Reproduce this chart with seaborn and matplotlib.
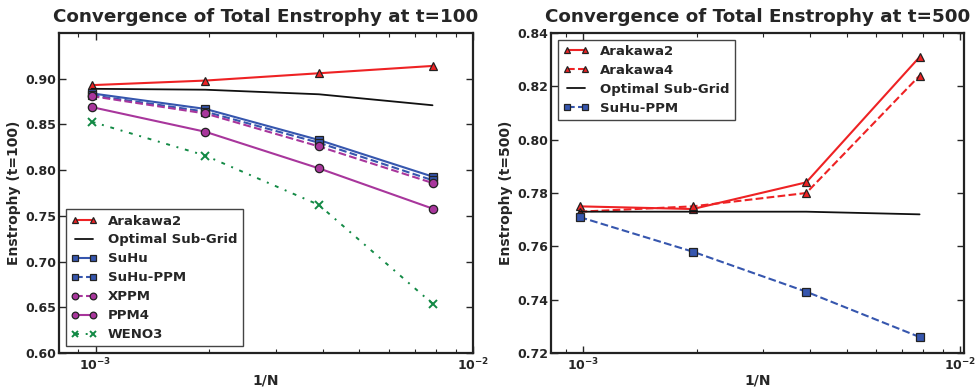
import numpy as np
import pandas as pd
import matplotlib
matplotlib.use("Agg")
import matplotlib.pyplot as plt
import seaborn as sns

# grid spacing 1/N
inv_n = [1 / 1024, 1 / 512, 1 / 256, 1 / 128]

# t=100
ara2_100 = [0.893, 0.898, 0.906, 0.914]
optimal_100 = [0.889, 0.888, 0.883, 0.871]
suhu_100 = [0.884, 0.867, 0.833, 0.793]
suhu_ppm_100 = [0.882, 0.864, 0.830, 0.789]
xppm_100 = [0.881, 0.862, 0.826, 0.786]
ppm4_100 = [0.869, 0.842, 0.802, 0.758]
weno3_100 = [0.853, 0.816, 0.762, 0.654]

# t=500
ara2_500 = [0.775, 0.774, 0.784, 0.831]
ara4_500 = [0.773, 0.775, 0.780, 0.824]
optimal_500 = [0.773, 0.773, 0.773, 0.772]
suhu_ppm_500 = [0.771, 0.758, 0.743, 0.726]

yticks_100 = [0.60, 0.65, 0.70, 0.75, 0.80, 0.85, 0.90]
yticks_500 = [0.72, 0.74, 0.76, 0.78, 0.80, 0.82, 0.84]

red = "#ee2224"
blue = "#3656ae"
purple = "#a8369c"
green = "#138a45"

sns.set_style("ticks")
plt.rcParams["font.family"] = ["DejaVu Sans"]
plt.rcParams.update({
    "font.weight": "bold",
    "axes.labelweight": "bold",
    "axes.titleweight": "bold",
    "mathtext.default": "bf",
    "axes.linewidth": 1.6,
    "axes.edgecolor": "#222222",
    "xtick.direction": "in",
    "ytick.direction": "in",
    "xtick.top": True,
    "ytick.right": True,
    "xtick.major.size": 5,
    "ytick.major.size": 5,
    "xtick.minor.size": 3,
    "xtick.major.width": 1.0,
    "ytick.major.width": 1.0,
    "xtick.minor.width": 0.8,
    "xtick.labelsize": 9,
    "ytick.labelsize": 9,
    "axes.labelsize": 10,
    "legend.fontsize": 9.5,
})

fig = plt.figure(figsize=(9.75, 3.89), dpi=100)
ax1 = fig.add_axes([0.0605, 0.0925, 0.4246, 0.8226])
ax2 = fig.add_axes([0.5651, 0.0925, 0.4236, 0.8226])


def draw(ax, y, label, color, marker, ls, ms=6):
    sns.lineplot(x=inv_n, y=y, ax=ax, color=color, marker=marker, linestyle=ls,
                 markersize=ms, markeredgecolor="#222222", markeredgewidth=0.9,
                 linewidth=1.5, label=label)


draw(ax1, ara2_100, "Arakawa2", red, "^", "-")
sns.lineplot(x=inv_n, y=optimal_100, ax=ax1, color="#111111", linewidth=1.3, label="Optimal Sub-Grid")
draw(ax1, suhu_100, "SuHu", blue, "s", "-")
draw(ax1, suhu_ppm_100, "SuHu-PPM", blue, "s", "--")
draw(ax1, xppm_100, "XPPM", purple, "o", "--")
draw(ax1, ppm4_100, "PPM4", purple, "o", "-")
sns.lineplot(x=inv_n, y=weno3_100, ax=ax1, color=green, marker="x", linestyle=(0, (2, 3.5, 1, 3.5)),
             markersize=6, markeredgecolor=green, markeredgewidth=1.4, linewidth=1.4, label="WENO3")

draw(ax2, ara2_500, "Arakawa2", red, "^", "-")
draw(ax2, ara4_500, "Arakawa4", red, "^", "--")
sns.lineplot(x=inv_n, y=optimal_500, ax=ax2, color="#111111", linewidth=1.3, label="Optimal Sub-Grid")
draw(ax2, suhu_ppm_500, "SuHu-PPM", blue, "s", "--")

for ax in (ax1, ax2):
    ax.set_xscale("log")
    ax.set_xlabel("1/N", labelpad=0)
    ax.tick_params(which="both", top=True, right=True, direction="in")
    ax.tick_params(axis="y", pad=2)
    ax.tick_params(axis="x", pad=3)
    for s in ax.spines.values():
        s.set_visible(True)

ax1.set_xlim(8e-4, 1e-2)
ax1.set_ylim(0.60, 0.95)
ax1.set_yticks(yticks_100)
ax1.set_yticklabels([f"{v:.2f}" for v in yticks_100])
ax1.set_ylabel("Enstrophy (t=100)", labelpad=3)
ax1.set_title("Convergence of Total Enstrophy at t=100", fontsize=13.2, pad=8)
ax1.legend(loc="lower left", numpoints=2, fancybox=False, edgecolor="#444444", markerscale=0.8,
           framealpha=1, borderaxespad=0.5, handlelength=2.0, labelspacing=0.45)

ax2.set_xlim(8.2e-4, 1.025e-2)
ax2.set_ylim(0.72, 0.84)
ax2.set_yticks(yticks_500)
ax2.set_yticklabels([f"{v:.2f}" for v in yticks_500])
ax2.set_ylabel("Enstrophy (t=500)", labelpad=3)
ax2.set_title("Convergence of Total Enstrophy at t=500", fontsize=13.2, pad=8)
ax2.legend(loc="upper left", numpoints=2, fancybox=False, edgecolor="#444444", markerscale=0.8,
           framealpha=1, borderaxespad=0.5, handlelength=2.0, labelspacing=0.45)

fig.savefig("out.png", dpi=100)
